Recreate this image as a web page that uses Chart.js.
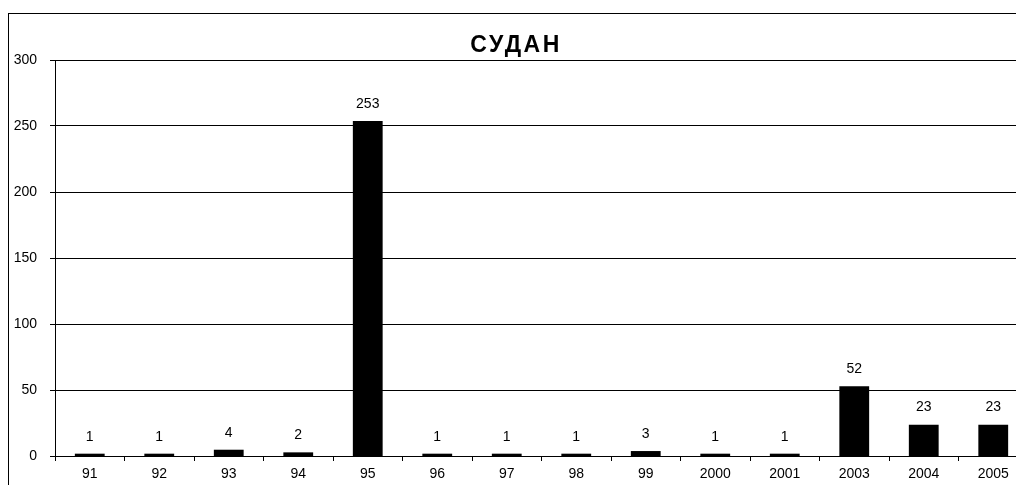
<!DOCTYPE html>
<html>
<head>
<meta charset="utf-8">
<script src="https://cdn.jsdelivr.net/npm/chart.js@4/dist/chart.umd.min.js"></script>
<style>
    html, body { margin: 0; padding: 0; background: #fff; overflow: hidden; width: 1016px; height: 485px; }
    #frame { position: absolute; left: 8px; top: 13px; border: 1px solid #000; width: 1019px; height: 482px; }
    #sudanChart { display: block; }
</style>
</head>
<body>
<div id="frame"><canvas id="sudanChart" width="1019" height="482"></canvas></div>
<script>
// Chart data
const chartTitle = 'СУДАН';
const years = ['91', '92', '93', '94', '95', '96', '97', '98', '99', '2000', '2001', '2003', '2004', '2005'];
const counts = [1, 1, 4, 2, 253, 1, 1, 1, 3, 1, 1, 52, 23, 23];
const yTicks = [0, 50, 100, 150, 200, 250, 300];

const fontFamily = 'Arial, "Liberation Sans", sans-serif';
const baseFont = { family: fontFamily, size: 14 };

// Spaced-out bold title (built-in title can't do letter spacing)
const spacedTitle = {
    id: 'spacedTitle',
    afterDraw(chart) {
        const ctx = chart.ctx;
        ctx.save();
        ctx.font = 'bold 23px ' + fontFamily;
        ctx.letterSpacing = '2.5px';
        ctx.fillStyle = '#000';
        ctx.textAlign = 'center';
        ctx.textBaseline = 'alphabetic';
        ctx.fillText(chartTitle, 507, 38);
        ctx.restore();
    }
};

// Value labels above bars
const valueLabels = {
    id: 'valueLabels',
    afterDatasetsDraw(chart) {
        const ctx = chart.ctx;
        const meta = chart.getDatasetMeta(0);
        ctx.save();
        ctx.font = '14px ' + fontFamily;
        ctx.fillStyle = '#000';
        ctx.textAlign = 'center';
        ctx.textBaseline = 'middle';
        meta.data.forEach(function(bar, i) {
            ctx.fillText(String(counts[i]), bar.x, bar.y - 18);
        });
        ctx.restore();
    }
};

const ctx = document.getElementById('sudanChart').getContext('2d');
new Chart(ctx, {
    type: 'bar',
    data: {
        labels: years,
        datasets: [{
            data: counts,
            backgroundColor: '#000',
            borderWidth: 0,
            inflateAmount: 1,
            barPercentage: 0.4,
            categoryPercentage: 1
        }]
    },
    options: {
        responsive: false,
        animation: false,
        layout: { padding: { top: 46, right: 0, bottom: 0, left: 0 } },
        plugins: {
            legend: { display: false },
            tooltip: { enabled: false },
            title: { display: false }
        },
        scales: {
            x: {
                offset: true,
                grid: { offset: true, drawOnChartArea: false, drawTicks: true, tickLength: 5, color: '#000' },
                border: { display: true, color: '#000', width: 1 },
                ticks: { color: '#000', font: baseFont, padding: 5, maxRotation: 0, autoSkip: false },
                afterFit: function(scale) { scale.height = 40; }
            },
            y: {
                min: 0,
                max: 300,
                afterBuildTicks: function(scale) {
                    scale.ticks = yTicks.map(v => ({ value: v }));
                },
                grid: { color: '#000', lineWidth: 1, drawTicks: true, tickLength: 5 },
                border: { display: true, color: '#000', width: 1 },
                ticks: { color: '#000', font: baseFont, padding: 13 },
                afterFit: function(scale) { scale.width = 46; }
            }
        }
    },
    plugins: [spacedTitle, valueLabels]
});
</script>
</body>
</html>
